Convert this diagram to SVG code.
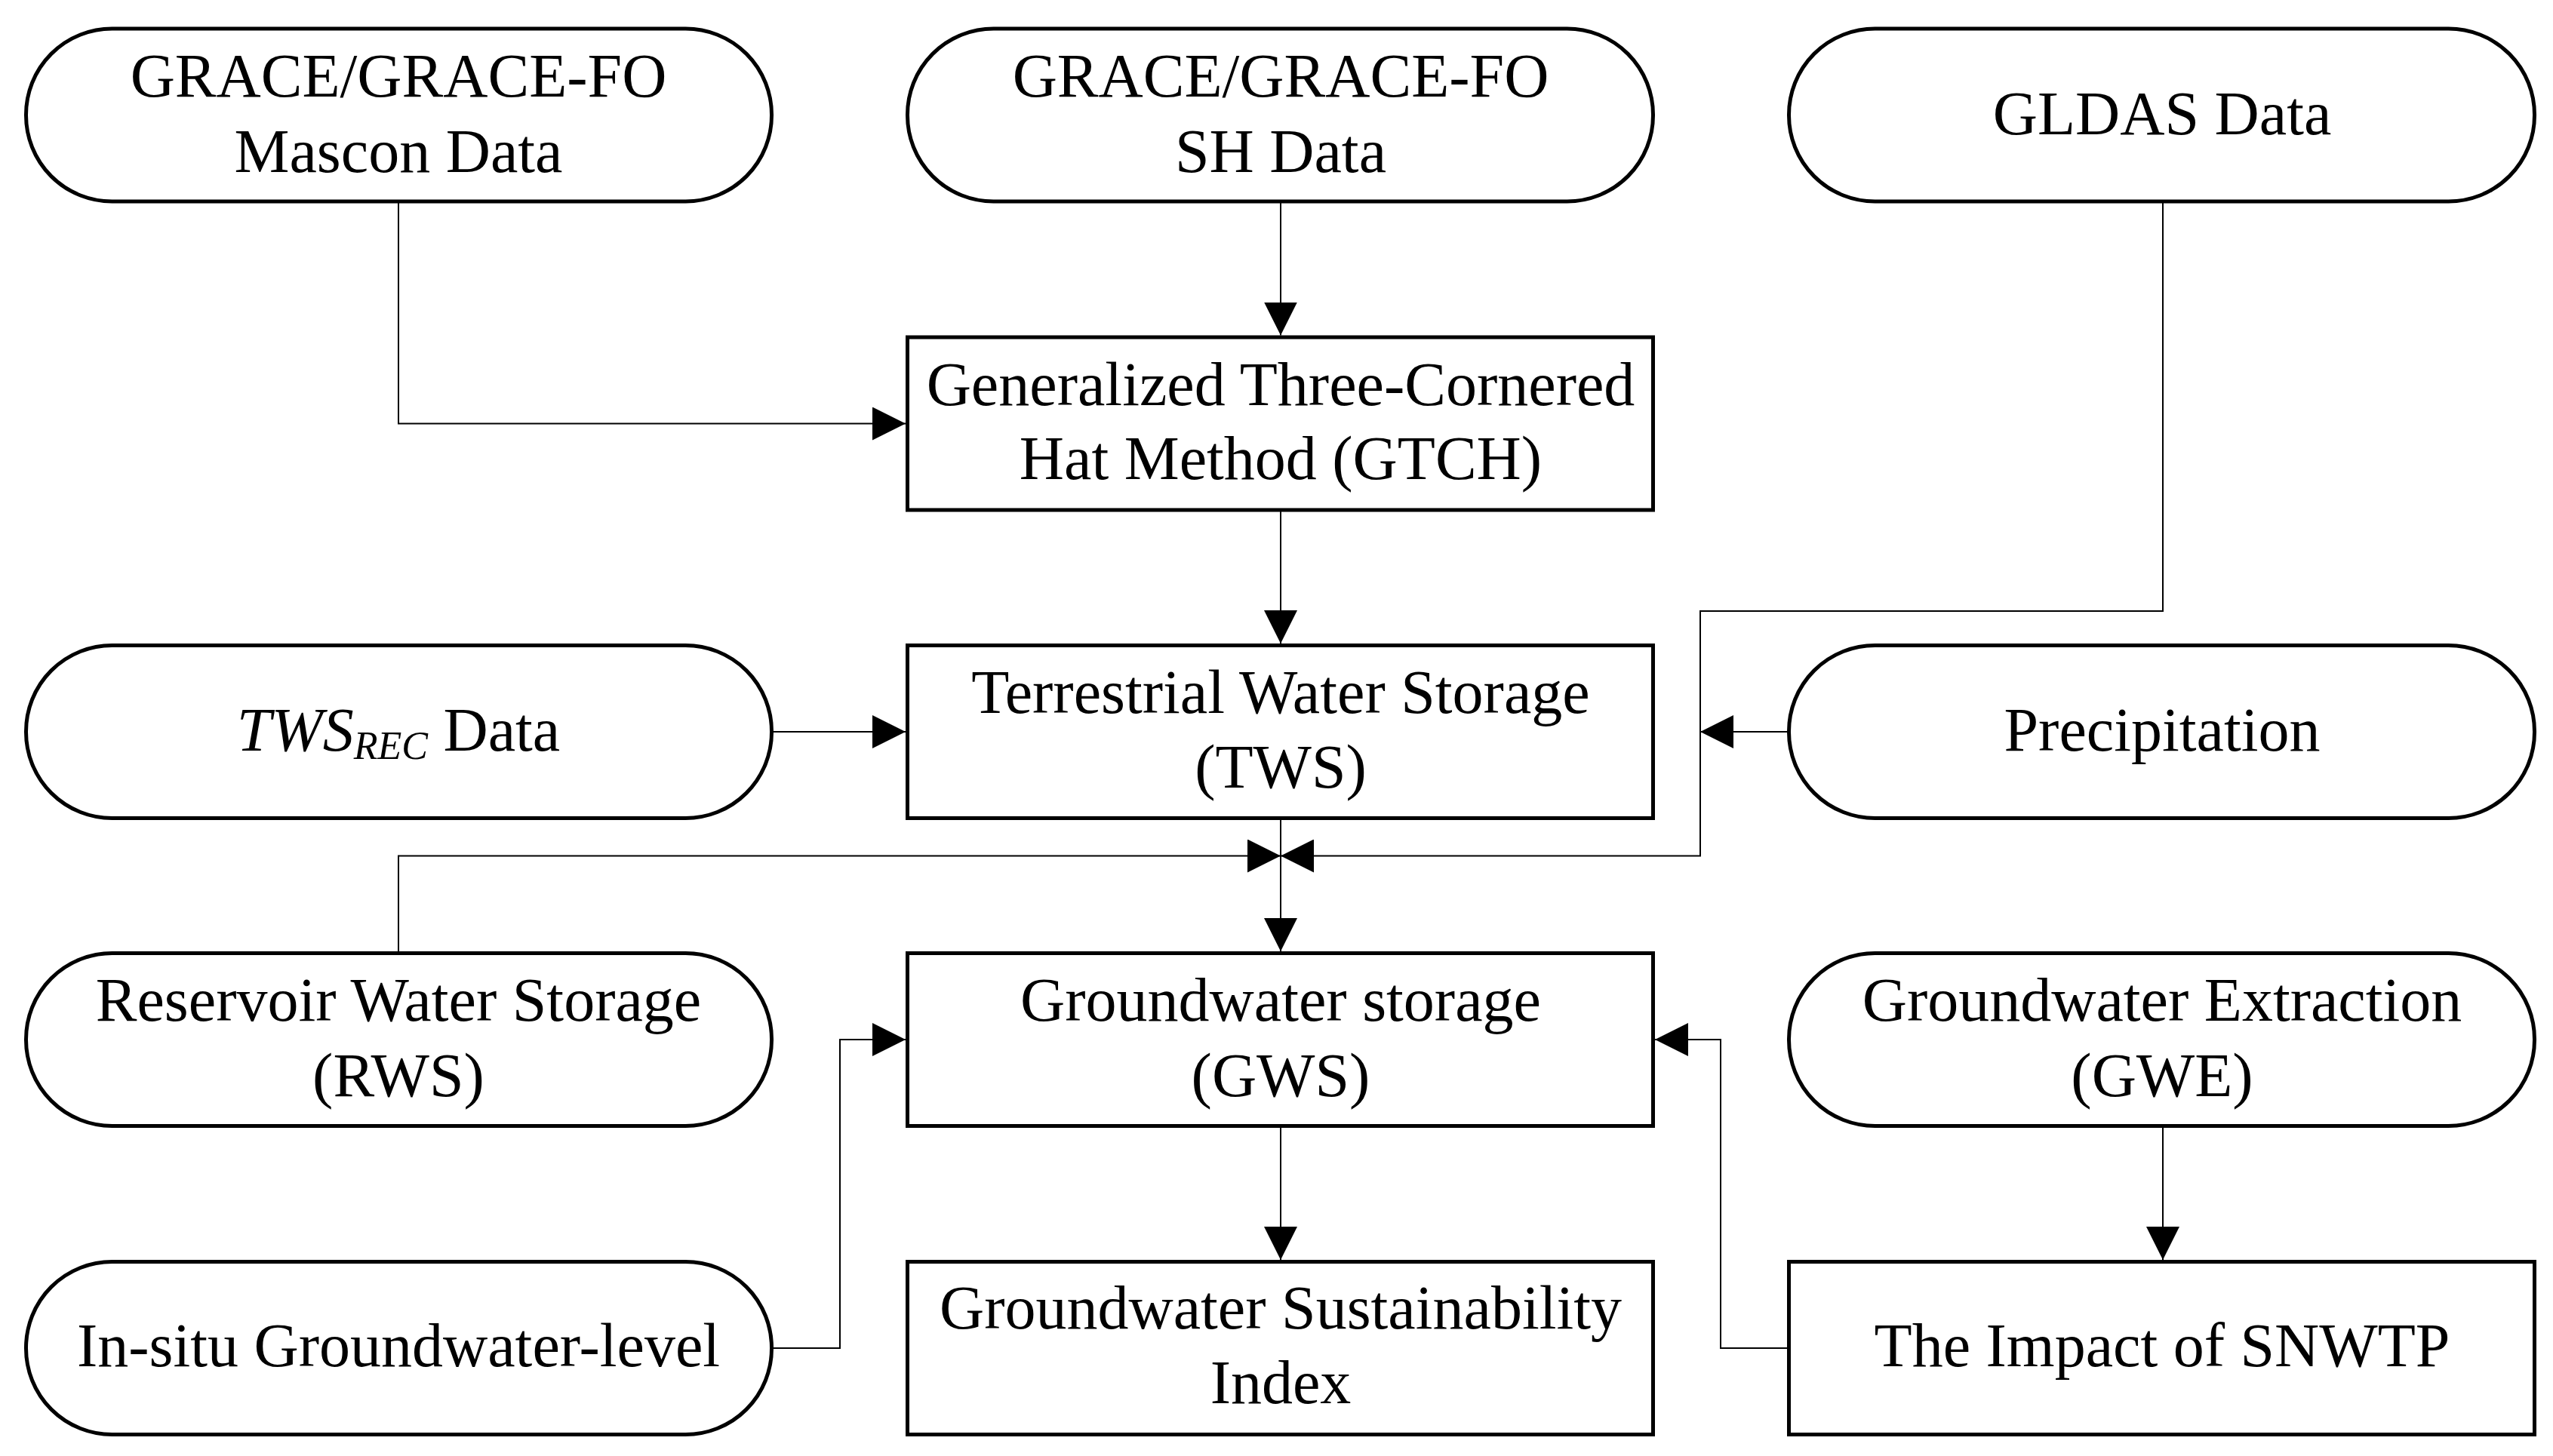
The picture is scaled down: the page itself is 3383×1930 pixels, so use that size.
<svg xmlns="http://www.w3.org/2000/svg" width="3383" height="1930" viewBox="0 0 3383 1930">
<style>
.n{fill:#fff;stroke:#000;stroke-width:5}
.t{font-family:"Liberation Serif","Times New Roman",serif;font-size:82px;fill:#000;text-anchor:middle}
.c{fill:none;stroke:#000;stroke-width:2}
</style>
<defs>
<marker id="ah" markerUnits="userSpaceOnUse" markerWidth="44" markerHeight="44" refX="44" refY="22" orient="auto" viewBox="0 0 44 44">
<path d="M0,0 L44,22 L0,44 z" fill="#000"/>
</marker>
</defs>
<rect width="3383" height="1930" fill="#fff"/>
<g id="connectors">
<path class="c" d="M528,266 V561.5 H1200" marker-end="url(#ah)"/>
<path class="c" d="M1697,266 V444.5" marker-end="url(#ah)"/>
<path class="c" d="M1697,676 V853" marker-end="url(#ah)"/>
<path class="c" d="M1022,970 H1200" marker-end="url(#ah)"/>
<path class="c" d="M2370,970 H2253" marker-end="url(#ah)"/>
<path class="c" d="M2866,267 V810 H2253 V1134.5 H1697" marker-end="url(#ah)"/>
<path class="c" d="M528,1263 V1134.5 H1697" marker-end="url(#ah)"/>
<path class="c" d="M1697,1087 V1261" marker-end="url(#ah)"/>
<path class="c" d="M1022,1787 H1113 V1378 H1200" marker-end="url(#ah)"/>
<path class="c" d="M2370,1787 H2280 V1378 H2193" marker-end="url(#ah)"/>
<path class="c" d="M1697,1493 V1670" marker-end="url(#ah)"/>
<path class="c" d="M2866,1493 V1670" marker-end="url(#ah)"/>
</g>
<g id="mascon">
<rect class="n" x="34.5" y="38" width="988" height="229" rx="114" ry="114"/>
<text class="t" x="528" y="127.5">GRACE/GRACE-FO</text>
<text class="t" x="528" y="227.5">Mascon Data</text>
</g>
<g id="sh">
<rect class="n" x="1202.5" y="38" width="988" height="229" rx="114" ry="114"/>
<text class="t" x="1697" y="127.5">GRACE/GRACE-FO</text>
<text class="t" x="1697" y="227.5">SH Data</text>
</g>
<g id="gldas">
<rect class="n" x="2370.5" y="38" width="988" height="229" rx="114" ry="114"/>
<text class="t" x="2865" y="177.5">GLDAS Data</text>
</g>
<g id="gtch">
<rect class="n" x="1202.5" y="447" width="988" height="229"/>
<text class="t" x="1697" y="536.5">Generalized Three-Cornered</text>
<text class="t" x="1697" y="634.5">Hat Method (GTCH)</text>
</g>
<g id="twsrec">
<rect class="n" x="34.5" y="855.5" width="988" height="229" rx="114" ry="114"/>
<text class="t" x="528" y="995"><tspan font-style="italic">TWS</tspan><tspan font-style="italic" font-size="52" dy="11">REC</tspan><tspan dy="-11"> Data</tspan></text>
</g>
<g id="tws">
<rect class="n" x="1202.5" y="855.5" width="988" height="229"/>
<text class="t" x="1697" y="945">Terrestrial Water Storage</text>
<text class="t" x="1697" y="1044">(TWS)</text>
</g>
<g id="precipitation">
<rect class="n" x="2370.5" y="855.5" width="988" height="229" rx="114" ry="114"/>
<text class="t" x="2865" y="995">Precipitation</text>
</g>
<g id="rws">
<rect class="n" x="34.5" y="1263.5" width="988" height="229" rx="114" ry="114"/>
<text class="t" x="528" y="1352.5">Reservoir Water Storage</text>
<text class="t" x="528" y="1452.5">(RWS)</text>
</g>
<g id="gws">
<rect class="n" x="1202.5" y="1263.5" width="988" height="229"/>
<text class="t" x="1697" y="1352.5">Groundwater storage</text>
<text class="t" x="1697" y="1452.5">(GWS)</text>
</g>
<g id="gwe">
<rect class="n" x="2370.5" y="1263.5" width="988" height="229" rx="114" ry="114"/>
<text class="t" x="2865" y="1352.5">Groundwater Extraction</text>
<text class="t" x="2865" y="1452.5">(GWE)</text>
</g>
<g id="insitu">
<rect class="n" x="34.5" y="1672.5" width="988" height="229" rx="114" ry="114"/>
<text class="t" x="528" y="1811">In-situ Groundwater-level</text>
</g>
<g id="gsi">
<rect class="n" x="1202.5" y="1672.5" width="988" height="229"/>
<text class="t" x="1697" y="1760.5">Groundwater Sustainability</text>
<text class="t" x="1697" y="1860">Index</text>
</g>
<g id="snwtp">
<rect class="n" x="2370.5" y="1672.5" width="988" height="229"/>
<text class="t" x="2865" y="1811">The Impact of SNWTP</text>
</g>
</svg>
